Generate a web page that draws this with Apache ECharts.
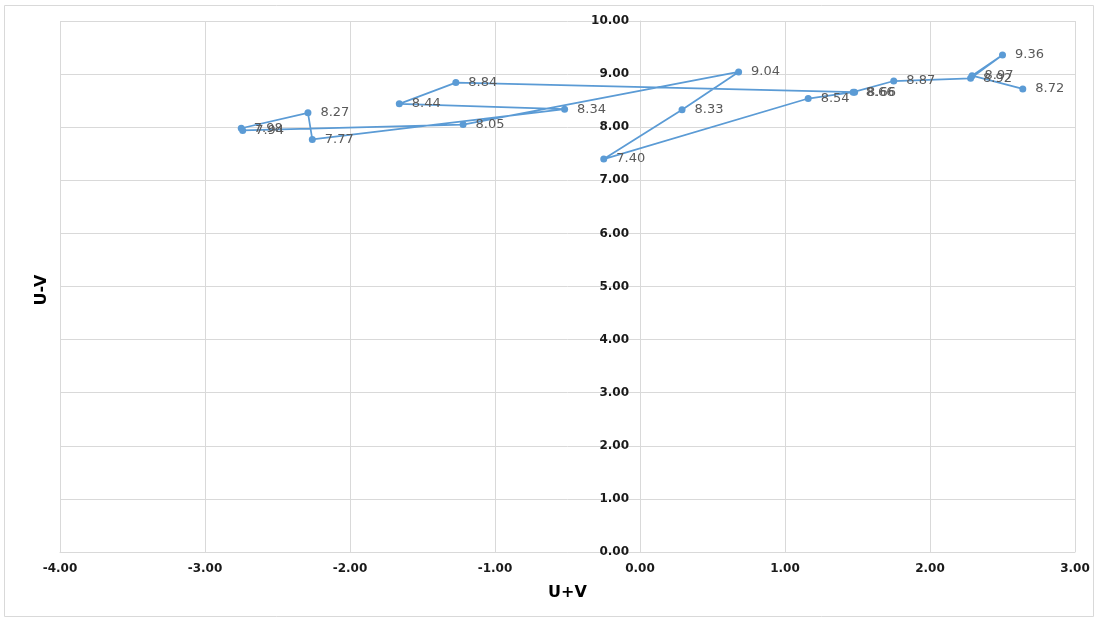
<!DOCTYPE html>
<html>
<head>
<meta charset="utf-8">
<script src="https://cdn.jsdelivr.net/npm/echarts@6/dist/echarts.min.js"></script>
<style>
html,body{margin:0;padding:0;background:#fff;}
#chart{width:1099px;height:622px;}
</style>
</head>
<body>
<div id="chart"></div>
<script>
// U+V (x) values, in path order
const uPlusV = [1.48, -1.27, -1.66, -0.52, -2.26, -2.29, -2.75, -2.74, -1.22, 0.68, 0.29, -0.25, 1.16, 1.47, 1.75, 2.28, 2.50, 2.29, 2.64];
// U-V (y) values, in path order
const uMinusV = [8.66, 8.84, 8.44, 8.34, 7.77, 8.27, 7.98, 7.94, 8.05, 9.04, 8.33, 7.40, 8.54, 8.66, 8.87, 8.92, 9.36, 8.97, 8.72];
const xTicks = {min: -4, max: 3, interval: 1};
const yTicks = {min: 0, max: 10, interval: 1};
const xName = 'U+V';
const yName = 'U-V';

const data = uPlusV.map((x, i) => [x, uMinusV[i]]);
const gridLeft = 60, gridRight = 24;
const plotWidth = 1099 - gridLeft - gridRight;
// distance from the grid's left edge to x = 0, so the y axis sits on x = 0
const yAxisShift = plotWidth * (0 - xTicks.min) / (xTicks.max - xTicks.min);

const chart = echarts.init(document.getElementById('chart'));
const gridColor = '#D9D9D9';
const axisFont = 'DejaVu Sans';
chart.setOption({
  animation: false,
  textStyle: {fontFamily: axisFont},
  grid: {left: gridLeft, right: gridRight, top: 21, bottom: 70, containLabel: false},
  graphic: [
    {type: 'rect', shape: {x: 4.5, y: 5.5, width: 1089, height: 611}, style: {fill: 'none', stroke: gridColor, lineWidth: 1}, silent: true},
    {type: 'text', x: 42, y: 290, rotation: Math.PI / 2, style: {text: yName, font: 'bold 16px DejaVu Sans', fill: '#000', textAlign: 'center', textVerticalAlign: 'middle'}}
  ],
  xAxis: {
    type: 'value', min: xTicks.min, max: xTicks.max, interval: xTicks.interval,
    name: xName, nameLocation: 'middle', nameGap: 33,
    nameTextStyle: {fontWeight: 'bold', fontSize: 16, color: '#000', fontFamily: axisFont},
    axisLine: {show: true, onZero: false, lineStyle: {color: gridColor}},
    axisTick: {show: false},
    axisLabel: {formatter: v => v.toFixed(2), fontWeight: 'bold', fontSize: 12, color: '#1a1a1a', margin: 11, fontFamily: axisFont},
    splitLine: {show: true, lineStyle: {color: gridColor}}
  },
  yAxis: {
    type: 'value', min: yTicks.min, max: yTicks.max, interval: yTicks.interval,
    position: 'left', offset: -yAxisShift,
    axisLine: {show: true, onZero: false, lineStyle: {color: gridColor}},
    axisTick: {show: false},
    axisLabel: {formatter: v => v.toFixed(2), fontWeight: 'bold', fontSize: 12, color: '#1a1a1a', margin: 11, fontFamily: axisFont},
    splitLine: {show: true, lineStyle: {color: gridColor}}
  },
  series: [{
    type: 'line',
    data: data,
    symbol: 'circle',
    symbolSize: 7,
    itemStyle: {color: '#5B9BD5'},
    lineStyle: {color: '#5B9BD5', width: 1.75},
    label: {
      show: true, position: 'right', distance: 9,
      formatter: p => p.value[1].toFixed(2),
      fontSize: 13, color: '#595959', fontFamily: axisFont
    },
    labelLayout: {hideOverlap: false}
  }]
});
</script>
</body>
</html>
